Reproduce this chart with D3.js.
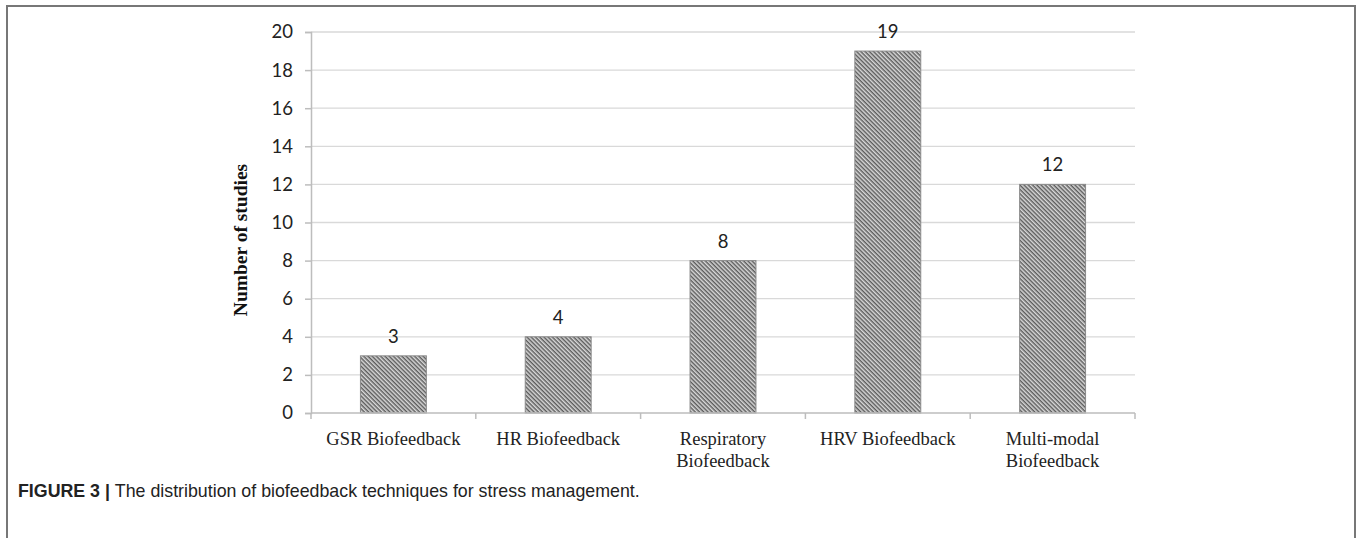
<!DOCTYPE html>
<html>
<head>
<meta charset="utf-8">
<script src="https://cdn.jsdelivr.net/npm/d3@7"></script>
<style>
  html, body { margin: 0; padding: 0; background: #fff; }
  svg { display: block; }
</style>
</head>
<body>
<div id="chart"></div>
<script>
// chart data
const categories = [
  ['GSR Biofeedback'],
  ['HR Biofeedback'],
  ['Respiratory', 'Biofeedback'],
  ['HRV Biofeedback'],
  ['Multi-modal', 'Biofeedback']
];
const studyCounts = [3, 4, 8, 19, 12];
const yTicks = [0, 2, 4, 6, 8, 10, 12, 14, 16, 18, 20];

const width = 1360, height = 538;
const plotLeft = 311, plotRight = 1135, plotTop = 32, plotBottom = 413;

const svg = d3.select('#chart').append('svg')
  .attr('width', width)
  .attr('height', height);

// hatch pattern for the bars (lines running top-left to bottom-right)
const defs = svg.append('defs');
const pat = defs.append('pattern')
  .attr('id', 'hatch')
  .attr('patternUnits', 'userSpaceOnUse')
  .attr('width', 3)
  .attr('height', 3)
  .attr('patternTransform', 'rotate(45)');
pat.append('rect').attr('width', 3).attr('height', 3).attr('fill', '#d9d9d9');
pat.append('line')
  .attr('x1', 0).attr('y1', 0.75).attr('x2', 3).attr('y2', 0.75)
  .attr('stroke', '#555').attr('stroke-width', 1.4);

// outer frame
svg.append('rect')
  .attr('x', 7).attr('y', 6)
  .attr('width', 1348).attr('height', 560)
  .attr('fill', 'none')
  .attr('stroke', '#777')
  .attr('stroke-width', 2);

const labels = categories.map(d => d.join(' '));

const x = d3.scaleBand()
  .domain(labels)
  .range([plotLeft, plotRight])
  .paddingInner(0.6)
  .paddingOuter(0.3);

const y = d3.scaleLinear()
  .domain([0, 20])
  .range([plotBottom, plotTop]);

// gridlines
svg.append('g')
  .selectAll('line')
  .data(yTicks.filter(d => d > 0))
  .enter().append('line')
  .attr('x1', plotLeft).attr('x2', plotRight)
  .attr('y1', d => y(d)).attr('y2', d => y(d))
  .attr('stroke', '#d9d9d9')
  .attr('stroke-width', 1.3);

// y axis
const yAxis = svg.append('g')
  .attr('transform', `translate(${plotLeft},0)`)
  .call(d3.axisLeft(y).tickValues(yTicks).tickSize(6).tickPadding(12));
yAxis.select('.domain').attr('stroke', '#bdbdbd').attr('stroke-width', 1.5);
yAxis.selectAll('.tick line').attr('stroke', '#bdbdbd').attr('stroke-width', 1.5);
yAxis.selectAll('.tick text')
  .attr('fill', '#222')
  .style('font-family', 'Lato, "Open Sans", sans-serif')
  .style('font-size', '18.5px');

// bars
svg.append('g')
  .selectAll('rect')
  .data(studyCounts)
  .enter().append('rect')
  .attr('x', (d, i) => x(labels[i]))
  .attr('y', d => y(d))
  .attr('width', x.bandwidth())
  .attr('height', d => y(0) - y(d))
  .attr('fill', 'url(#hatch)')
  .attr('stroke', '#8a8a8a')
  .attr('stroke-width', 1);

// value labels
svg.append('g')
  .selectAll('text')
  .data(studyCounts)
  .enter().append('text')
  .attr('x', (d, i) => x(labels[i]) + x.bandwidth() / 2)
  .attr('y', d => y(d) - 13)
  .attr('text-anchor', 'middle')
  .attr('fill', '#222')
  .style('font-family', 'Lato, "Open Sans", sans-serif')
  .style('font-size', '18.5px')
  .text(d => d);

// x axis line and boundary ticks
const step = x.step();
svg.append('line')
  .attr('x1', plotLeft).attr('x2', plotRight)
  .attr('y1', plotBottom).attr('y2', plotBottom)
  .attr('stroke', '#bdbdbd').attr('stroke-width', 1.5);
svg.append('g')
  .selectAll('line')
  .data(d3.range(labels.length + 1))
  .enter().append('line')
  .attr('x1', i => plotLeft + i * step).attr('x2', i => plotLeft + i * step)
  .attr('y1', plotBottom).attr('y2', plotBottom + 6)
  .attr('stroke', '#bdbdbd').attr('stroke-width', 1.5);

// category labels
const cat = svg.append('g')
  .selectAll('text')
  .data(categories)
  .enter().append('text')
  .attr('x', (d, i) => x(labels[i]) + x.bandwidth() / 2)
  .attr('y', 445)
  .attr('text-anchor', 'middle')
  .attr('fill', '#222')
  .style('font-family', '"Liberation Serif", "DejaVu Serif", serif')
  .style('font-size', '18.5px');
cat.selectAll('tspan')
  .data(d => d)
  .enter().append('tspan')
  .attr('x', function () { return d3.select(this.parentNode).attr('x'); })
  .attr('dy', (d, i) => i === 0 ? 0 : 22)
  .text(d => d);

// y axis title
svg.append('text')
  .attr('transform', 'translate(247,240) rotate(-90)')
  .attr('text-anchor', 'middle')
  .attr('fill', '#111')
  .style('font-family', '"Liberation Serif", "DejaVu Serif", serif')
  .style('font-weight', 'bold')
  .style('font-size', '19.5px')
  .text('Number of studies');

// caption
const cap = svg.append('text')
  .attr('x', 18)
  .attr('y', 497)
  .attr('fill', '#222')
  .style('font-family', '"Liberation Sans", Arial, sans-serif')
  .style('font-size', '17.8px');
cap.append('tspan').style('font-weight', 'bold').text('FIGURE 3 | ');
cap.append('tspan').text('The distribution of biofeedback techniques for stress management.');
</script>
</body>
</html>
